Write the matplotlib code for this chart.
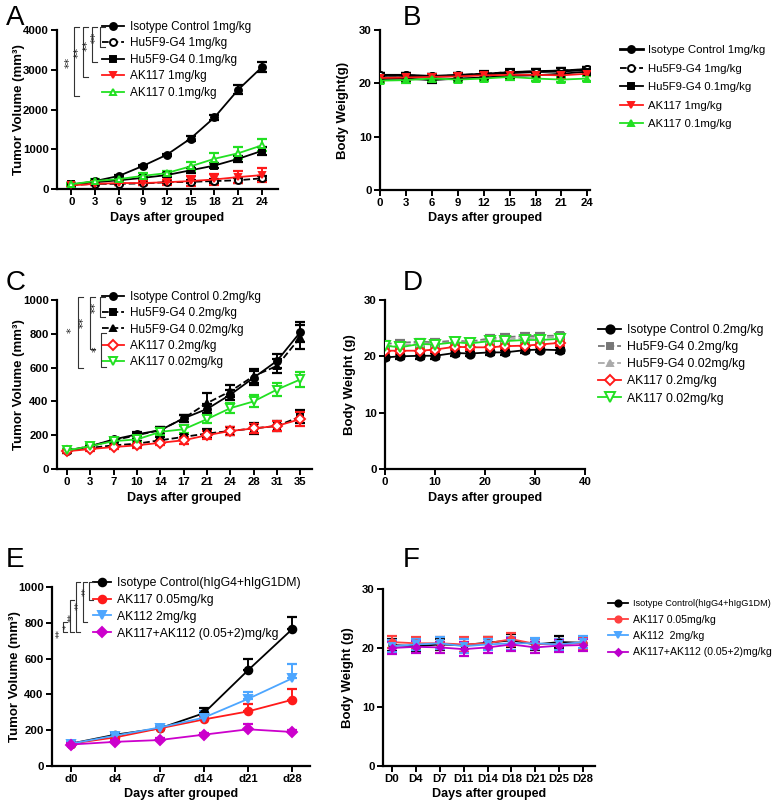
import matplotlib
matplotlib.use("Agg")
import matplotlib.pyplot as plt
from matplotlib.lines import Line2D
import numpy as np

plt.rcParams['font.family'] = ['Liberation Sans', 'DejaVu Sans']

W, H = 772, 809

# ---------------- Panel A data ----------------
a_days = [0, 3, 6, 9, 12, 15, 18, 21, 24]
a_labels = ["Isotype Control 1mg/kg", "Hu5F9-G4 1mg/kg", "Hu5F9-G4 0.1mg/kg", "AK117 1mg/kg", "AK117 0.1mg/kg"]
a_iso = [100, 200, 330, 580, 860, 1270, 1800, 2500, 3070]
a_iso_err = [20, 30, 30, 30, 30, 60, 70, 120, 120]
a_hu1 = [100, 130, 130, 140, 170, 180, 200, 220, 270]
a_hu1_err = [20, 20, 30, 30, 40, 40, 60, 60, 60]
a_hu01 = [120, 170, 220, 280, 350, 470, 590, 760, 960]
a_hu01_err = [20, 30, 30, 40, 50, 60, 70, 80, 100]
a_ak1 = [90, 130, 150, 150, 170, 200, 240, 300, 350]
a_ak1_err = [20, 30, 40, 50, 60, 120, 130, 150, 180]
a_ak01 = [120, 200, 250, 330, 400, 570, 760, 900, 1100]
a_ak01_err = [20, 40, 50, 60, 60, 120, 140, 150, 150]

# ---------------- Panel B data ----------------
b_iso = [21.5, 21.5, 21.3, 21.5, 21.7, 22.0, 22.2, 22.3, 22.6]
b_hu1 = [21.5, 21.5, 21.3, 21.5, 21.8, 22.1, 22.2, 22.4, 22.6]
b_hu01 = [20.8, 20.9, 20.6, 20.9, 21.1, 21.4, 21.5, 21.8, 22.2]
b_ak1 = [21.0, 21.1, 21.2, 21.3, 21.5, 21.6, 21.6, 21.5, 21.8]
b_ak01 = [20.5, 20.6, 20.9, 20.7, 20.9, 21.2, 20.9, 20.7, 20.9]
b_err = [0.5, 0.5, 0.5, 0.5, 0.5, 0.5, 0.5, 0.5, 0.5]

# ---------------- Panel C data ----------------
c_ticks = ["0", "3", "7", "10", "14", "17", "21", "24", "28", "31", "35"]
c_labels = ["Isotype Control 0.2mg/kg", "Hu5F9-G4 0.2mg/kg", "Hu5F9-G4 0.02mg/kg", "AK117 0.2mg/kg", "AK117 0.02mg/kg"]
c_iso = [105, 135, 175, 205, 230, 300, 355, 440, 540, 640, 810]
c_iso_err = [10, 10, 10, 15, 20, 20, 30, 30, 40, 40, 60]
c_hu02 = [110, 125, 140, 150, 170, 190, 210, 225, 240, 255, 310]
c_hu02_err = [10, 10, 10, 15, 20, 20, 25, 25, 30, 30, 40]
c_hu002 = [110, 135, 170, 200, 230, 300, 390, 460, 550, 610, 780]
c_hu002_err = [10, 10, 10, 15, 20, 20, 60, 35, 40, 40, 70]
c_ak02 = [105, 118, 130, 140, 155, 170, 200, 225, 240, 255, 295]
c_ak02_err = [10, 10, 10, 15, 15, 20, 25, 25, 25, 30, 40]
c_ak002 = [110, 135, 165, 175, 220, 235, 295, 360, 400, 470, 530]
c_ak002_err = [10, 10, 15, 15, 20, 20, 25, 30, 35, 40, 45]

# ---------------- Panel D data ----------------
d_days = [0, 3, 7, 10, 14, 17, 21, 24, 28, 31, 35]
d_iso = [19.8, 20.0, 20.1, 20.1, 20.6, 20.5, 20.7, 20.7, 21.1, 21.2, 21.1]
d_hu02 = [22.2, 22.4, 22.6, 22.5, 22.8, 22.6, 23.2, 23.4, 23.6, 23.6, 23.7]
d_hu002 = [21.8, 21.9, 22.3, 22.2, 22.6, 22.4, 22.9, 23.0, 23.2, 23.3, 23.4]
d_ak02 = [21.0, 21.0, 21.0, 21.2, 21.7, 21.6, 21.6, 21.8, 21.9, 22.1, 22.4]
d_ak002 = [21.9, 21.6, 22.2, 22.1, 22.5, 22.3, 22.7, 22.7, 22.9, 22.9, 23.1]
d_err = [0.5] * 11

# ---------------- Panel E data ----------------
e_ticks = ["d0", "d4", "d7", "d14", "d21", "d28"]
e_labels = ["Isotype Control(hIgG4+hIgG1DM)", "AK117 0.05mg/kg", "AK112 2mg/kg", "AK117+AK112 (0.05+2)mg/kg"]
e_iso = [125, 175, 210, 295, 535, 765]
e_iso_err = [10, 10, 10, 30, 60, 70]
e_ak117 = [125, 160, 210, 260, 305, 370]
e_ak117_err = [10, 10, 10, 15, 40, 60]
e_ak112 = [125, 170, 215, 270, 375, 490]
e_ak112_err = [10, 10, 10, 40, 40, 80]
e_combo = [120, 135, 145, 175, 205, 190]
e_combo_err = [10, 10, 10, 10, 30, 10]

# ---------------- Panel F data ----------------
f_ticks = ["D0", "D4", "D7", "D11", "D14", "D18", "D21", "D25", "D28"]
f_labels = ["Isotype Control(hIgG4+hIgG1DM)", "AK117 0.05mg/kg", "AK112  2mg/kg", "AK117+AK112 (0.05+2)mg/kg"]
f_iso = [20.5, 20.3, 20.6, 20.5, 20.9, 21.3, 20.6, 21.0, 20.9]
f_ak117 = [21.0, 20.8, 20.8, 20.6, 20.8, 21.5, 20.7, 20.6, 20.9]
f_ak112 = [20.3, 20.6, 20.8, 20.3, 20.6, 20.8, 20.8, 20.6, 21.0]
f_combo = [20.0, 20.2, 20.1, 19.8, 20.1, 20.6, 20.1, 20.4, 20.5]
f_err = [1.0, 1.0, 1.0, 1.2, 1.0, 1.1, 0.9, 1.0, 1.0]

fig = plt.figure(figsize=(W / 100, H / 100), dpi=100)


def rect(l, t, r, b):
    return [l / W, 1 - b / H, (r - l) / W, (b - t) / H]


def style(ax, xlabel, ylabel, ylx, fs=8.2):
    for s in ['top', 'right']:
        ax.spines[s].set_visible(False)
    for s in ['left', 'bottom']:
        ax.spines[s].set_linewidth(1.6)
    ax.tick_params(width=1.4, length=4, labelsize=fs, pad=2)
    for t in ax.get_xticklabels() + ax.get_yticklabels():
        t.set_fontweight('bold')
    ax.set_xlabel(xlabel, fontsize=9, fontweight='bold', labelpad=3)
    ax.set_ylabel(ylabel, fontsize=9.5, fontweight='bold')
    bb = ax.get_position()
    ax.yaxis.set_label_coords((ylx / W - bb.x0) / bb.width, 0.5)


def series(ax, x, y, err, color, marker, ls='-', mfc=None, ms=5, lw=1.3, label=None, lower=True, ecolor=None):
    ecolor = ecolor or color
    yerr = err if lower else [np.zeros(len(err)), err]
    ax.errorbar(x, y, yerr=yerr, fmt='none', ecolor=ecolor, elinewidth=1.4, capsize=3.5, capthick=1.6, zorder=2)
    h, = ax.plot(x, y, ls=ls, color=color, marker=marker, mfc=mfc if mfc else color,
                 mec=color, ms=ms, lw=lw, mew=1.4, label=label, zorder=3)
    return h


def bracket(x, y0, y1, label, lx, ly, fs=8, tick=5):
    xs = [(x + tick) / W, x / W, x / W, (x + tick) / W]
    ys = [1 - y0 / H, 1 - y0 / H, 1 - y1 / H, 1 - y1 / H]
    fig.add_artist(Line2D(xs, ys, color='#333333', lw=0.8, transform=fig.transFigure))
    fig.text(lx / W, 1 - ly / H, label, rotation=90, fontsize=fs, ha='center', va='center', color='#222222',
             family='DejaVu Sans')


def letter(x, y, s):
    fig.text(x / W, 1 - y / H, s, fontsize=20, ha='left', va='top')


# ================= Panel A =================
axA = fig.add_axes(rect(57, 30, 278, 189))
hA = []
hA.append(series(axA, a_days, a_iso, a_iso_err, 'black', 'o', label=a_labels[0]))
hA.append(series(axA, a_days, a_hu1, a_hu1_err, 'black', 'o', ls='--', mfc='white', label=a_labels[1]))
hA.append(series(axA, a_days, a_hu01, a_hu01_err, 'black', 's', ms=4.5, label=a_labels[2]))
hA.append(series(axA, a_days, a_ak1, a_ak1_err, '#FF1A1A', 'v', label=a_labels[3]))
hA.append(series(axA, a_days, a_ak01, a_ak01_err, '#22E022', '^', mfc='white', label=a_labels[4]))
axA.set_xlim(-1.8, 26)
axA.set_ylim(0, 4000)
axA.set_xticks(a_days)
axA.set_yticks([0, 1000, 2000, 3000, 4000])
style(axA, 'Days after grouped', 'Tumor Volume (mm³)', 25)
axA.legend(handles=hA, loc='upper left', bbox_to_anchor=(102 / W, 1 - 21 / H), bbox_transform=fig.transFigure,
           frameon=False, fontsize=8.5, borderpad=0, borderaxespad=0, handlelength=1.9, handletextpad=0.5,
           labelspacing=0.38)
letter(6, 5, 'A')
bracket(100, 27, 47, '**', 96, 37)
bracket(92, 27, 62, '**', 88, 45)
bracket(83, 27, 77, '**', 79, 52)
bracket(74, 27, 96, '**', 70, 62)

# ================= Panel B =================
axB = fig.add_axes(rect(380, 30, 590, 190))
hB = []
hB.append(series(axB, a_days, b_iso, b_err, 'black', 'o', ms=5, lw=2.0, label=a_labels[0]))
hB.append(series(axB, a_days, b_hu1, b_err, 'black', 'o', ls='--', mfc='white', ms=5, label=a_labels[1]))
hB.append(series(axB, a_days, b_hu01, b_err, 'black', 's', ms=4, label=a_labels[2]))
hB.append(series(axB, a_days, b_ak1, b_err, '#FF1A1A', 'v', ms=4, label=a_labels[3]))
hB.append(series(axB, a_days, b_ak01, b_err, '#22E022', '^', ms=4, label=a_labels[4]))
axB.set_xlim(0, 24.3)
axB.set_ylim(0, 30)
axB.set_xticks(a_days)
axB.set_yticks([0, 10, 20, 30])
style(axB, 'Days after grouped', 'Body Weight(g)', 349)
axB.legend(handles=hB, loc='upper left', bbox_to_anchor=(620 / W, 1 - 45 / H), bbox_transform=fig.transFigure,
           frameon=False, fontsize=8.2, borderpad=0, borderaxespad=0, handlelength=2.0, handletextpad=0.45,
           labelspacing=0.75)
letter(403, 5, 'B')

# ================= Panel C =================
axC = fig.add_axes(rect(57, 300, 312, 469))
xc = np.arange(len(c_ticks))
hC = []
hC.append(series(axC, xc, c_iso, c_iso_err, 'black', 'o', label=c_labels[0]))
hC.append(series(axC, xc, c_hu02, c_hu02_err, 'black', 's', ls='--', ms=4.5, label=c_labels[1]))
hC.append(series(axC, xc, c_hu002, c_hu002_err, 'black', '^', ls='--', ms=4.5, label=c_labels[2]))
hC.append(series(axC, xc, c_ak02, c_ak02_err, '#FF1A1A', 'D', mfc='white', ms=5, label=c_labels[3]))
hC.append(series(axC, xc, c_ak002, c_ak002_err, '#22E022', 'v', mfc='white', ms=5.5, label=c_labels[4]))
axC.set_xlim(-0.43, 10.5)
axC.set_ylim(0, 1000)
axC.set_xticks(xc)
axC.set_xticklabels(c_ticks)
axC.set_yticks([0, 200, 400, 600, 800, 1000])
style(axC, 'Days after grouped', 'Tumor Volume (mm³)', 25)
axC.legend(handles=hC, loc='upper left', bbox_to_anchor=(102 / W, 1 - 291 / H), bbox_transform=fig.transFigure,
           frameon=False, fontsize=8.5, borderpad=0, borderaxespad=0, handlelength=1.9, handletextpad=0.5,
           labelspacing=0.36)
letter(6, 270, 'C')
bracket(100, 297, 317, '**', 96, 307)
bracket(90, 297, 349, '**', 84, 322)
bracket(78, 297, 368, '*', 72, 330)
bracket(101, 333, 367, '*', 97, 349)

# ================= Panel D =================
axD = fig.add_axes(rect(385, 300, 585, 469))
hD = []
hD.append(series(axD, d_days, d_iso, d_err, 'black', 'o', ms=6, label=c_labels[0]))
hD.append(series(axD, d_days, d_hu02, d_err, '#777777', 's', ls='--', ms=4.5, label=c_labels[1]))
hD.append(series(axD, d_days, d_hu002, d_err, '#AAAAAA', '^', ls='--', ms=4.5, label=c_labels[2]))
hD.append(series(axD, d_days, d_ak02, d_err, '#FF1A1A', 'D', mfc='white', ms=5.5, label=c_labels[3]))
hD.append(series(axD, d_days, d_ak002, d_err, '#22E022', 'v', mfc='white', ms=6.5, label=c_labels[4]))
axD.set_xlim(0, 40)
axD.set_ylim(0, 30)
axD.set_xticks([0, 10, 20, 30, 40])
axD.set_yticks([0, 10, 20, 30])
style(axD, 'Days after grouped', 'Body Weight (g)', 356)
axD.legend(handles=hD, loc='upper left', bbox_to_anchor=(598 / W, 1 - 324 / H), bbox_transform=fig.transFigure,
           frameon=False, fontsize=8.8, borderpad=0, borderaxespad=0, handlelength=1.9, handletextpad=0.5,
           labelspacing=0.42)
letter(403, 270, 'D')

# ================= Panel E =================
axE = fig.add_axes(rect(52, 587, 310, 766))
xe = np.arange(len(e_ticks))
hE = []
hE.append(series(axE, xe, e_iso, e_iso_err, 'black', 'o', ms=5.5, lower=False, label=e_labels[0]))
hE.append(series(axE, xe, e_ak117, e_ak117_err, '#FF1A1A', 'o', ms=5.5, lower=False, label=e_labels[1]))
hE.append(series(axE, xe, e_ak112, e_ak112_err, '#4DA6FF', 'v', ms=6, lower=False, label=e_labels[2]))
hE.append(series(axE, xe, e_combo, e_combo_err, '#CC00CC', 'D', ms=5.5, lower=False, label=e_labels[3]))
axE.set_xlim(-0.43, 5.4)
axE.set_ylim(0, 1000)
axE.set_xticks(xe)
axE.set_xticklabels(e_ticks)
axE.set_yticks([0, 200, 400, 600, 800, 1000])
style(axE, 'Days after grouped', 'Tumor Volume (mm³)', 21)
axE.legend(handles=hE, loc='upper left', bbox_to_anchor=(93 / W, 1 - 577 / H), bbox_transform=fig.transFigure,
           frameon=False, fontsize=8.8, borderpad=0, borderaxespad=0, handlelength=1.5, handletextpad=0.5,
           labelspacing=0.4)
letter(6, 547, 'E')
bracket(89, 582, 600, '**', 86, 592, fs=6.5, tick=4)
bracket(83, 582, 622, '**', 79, 605, fs=6.5, tick=4)
bracket(76, 582, 632, '**', 72, 617, fs=6.5, tick=4)
bracket(70, 600, 632, '*', 67, 627, fs=6.5, tick=4)
bracket(63, 622, 632, '**', 60, 634, fs=6.5, tick=4)

# ================= Panel F =================
axF = fig.add_axes(rect(383, 589, 595, 766))
xf = np.arange(len(f_ticks))
hF = []
hF.append(series(axF, xf, f_iso, f_err, 'black', 'o', ms=4.5, label=f_labels[0]))
hF.append(series(axF, xf, f_ak117, f_err, '#FF4040', 'o', ms=4.5, label=f_labels[1]))
hF.append(series(axF, xf, f_ak112, f_err, '#4DA6FF', 'v', ms=4.5, label=f_labels[2]))
hF.append(series(axF, xf, f_combo, f_err, '#BB00CC', 'D', ms=3.5, label=f_labels[3]))
axF.set_xlim(-0.38, 8.5)
axF.set_ylim(0, 30)
axF.set_xticks(xf)
axF.set_xticklabels(f_ticks)
axF.set_yticks([0, 10, 20, 30])
style(axF, 'Days after grouped', 'Body Weight (g)', 354)
legF = axF.legend(handles=hF, loc='upper left', bbox_to_anchor=(608 / W, 1 - 599 / H), bbox_transform=fig.transFigure,
                  frameon=False, fontsize=7.6, borderpad=0, borderaxespad=0, handlelength=1.9, handletextpad=0.5,
                  labelspacing=0.6)
legF.get_texts()[0].set_fontsize(6.6)
letter(403, 547, 'F')

fig.savefig('out.png', dpi=100)
